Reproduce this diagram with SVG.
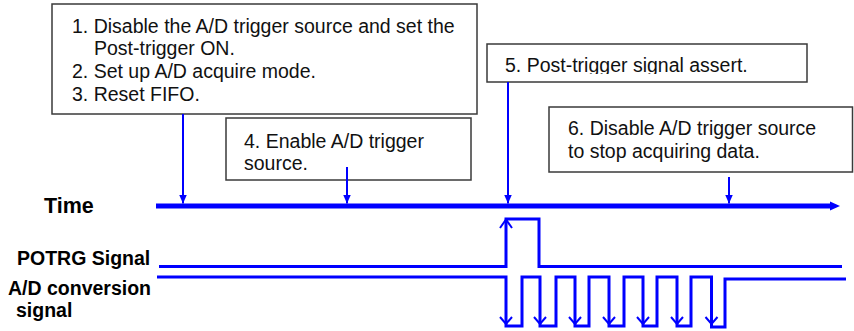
<svg xmlns="http://www.w3.org/2000/svg" width="854" height="331" viewBox="0 0 854 331">
  <style>
    .box { fill: #ffffff; stroke: #3a3a3a; stroke-width: 1.5; }
    .note { font-family: "Liberation Sans", Arial, sans-serif; font-size: 19.5px; fill: #111111; }
    .label { font-family: "Liberation Sans", Arial, sans-serif; font-weight: bold; font-size: 19.5px; fill: #000000; }
    .callout { stroke: #0000ff; stroke-width: 2; fill: none; }
    .wave { stroke: #0000ff; stroke-width: 3; fill: none; stroke-linejoin: miter; }
    .tick { stroke: #0000ff; stroke-width: 2; fill: none; }
    .axis { stroke: #0000ff; stroke-width: 5; fill: none; }
  </style>
  <defs>
    <marker id="head" markerUnits="userSpaceOnUse" markerWidth="10" markerHeight="10" refX="9" refY="5" orient="auto">
      <path d="M0,1 L9,5 L0,9 Z" fill="#0000ff"/>
    </marker>
    <clipPath id="clip5">
      <rect x="488" y="45" width="318" height="29"/>
    </clipPath>
  </defs>

  <!-- time axis -->
  <g id="time-axis">
    <line class="axis" x1="156" y1="206" x2="832" y2="206"/>
    <path d="M830,201.5 L840,206 L830,210.5 Z" fill="#0000ff"/>
  </g>

  <!-- step boxes -->
  <g id="step1">
    <rect class="box" x="52" y="4" width="425" height="110"/>
    <text class="note" x="72" y="32.5">1. Disable the A/D trigger source and set the</text>
    <text class="note" x="94" y="55">Post-trigger ON.</text>
    <text class="note" x="72" y="78">2. Set up A/D acquire mode.</text>
    <text class="note" x="72" y="101">3. Reset FIFO.</text>
  </g>
  <g id="step4">
    <rect class="box" x="226" y="118" width="245" height="62"/>
    <text class="note" x="244" y="147.5">4. Enable A/D trigger</text>
    <text class="note" x="244" y="170">source.</text>
  </g>
  <g id="step5">
    <rect class="box" x="487" y="44" width="320" height="38"/>
    <text class="note" x="505" y="72" clip-path="url(#clip5)">5. Post-trigger signal assert.</text>
  </g>
  <g id="step6">
    <rect class="box" x="549" y="107" width="303.5" height="65"/>
    <text class="note" x="568" y="135">6. Disable A/D trigger source</text>
    <text class="note" x="568" y="157.5">to stop acquiring data.</text>
  </g>

  <!-- callout arrows onto the time axis -->
  <g id="connectors">
    <line class="callout" x1="183" y1="114" x2="183" y2="203.5" marker-end="url(#head)"/>
    <line class="callout" x1="347" y1="167" x2="347" y2="203.5" marker-end="url(#head)"/>
    <line class="callout" x1="508" y1="82" x2="508" y2="203.5" marker-end="url(#head)"/>
    <line class="callout" x1="729" y1="177" x2="729" y2="203.5" marker-end="url(#head)"/>
  </g>

  <!-- signal labels -->
  <g id="labels">
    <text class="label" x="44" y="213" style="font-size:21.5px">Time</text>
    <text class="label" x="17" y="265">POTRG Signal</text>
    <text class="label" x="8" y="295">A/D conversion</text>
    <text class="label" x="16" y="317">signal</text>
  </g>

  <!-- POTRG waveform -->
  <g id="potrg-signal">
    <polyline class="wave" points="159,266.5 506,266.5 506,219 539,219 539,266.5 842,266.5"/>
    <polyline class="tick" points="500,228 506,219.5 512,228"/>
  </g>

  <!-- A/D conversion waveform -->
  <g id="ad-signal">
    <polyline class="wave" points="157,277 506,277 506,326 522,326 522,277 540,277 540,326 556,326 556,277 575,277 575,326 589,326 589,277 609,277 609,326 624,326 624,277 643,277 643,326 657,326 657,277 677,277 677,326 691,326 691,277 711.5,277 711.5,327 725,327 725,279 846,279"/>
    <g class="tick">
      <polyline points="500,317 506,324 512,317"/>
      <polyline points="534,317 540,324 546,317"/>
      <polyline points="569,317 575,324 581,317"/>
      <polyline points="603,317 609,324 615,317"/>
      <polyline points="637,317 643,324 649,317"/>
      <polyline points="671,317 677,324 683,317"/>
      <polyline points="705.5,317 711.5,324 717.5,317"/>
    </g>
  </g>
</svg>
